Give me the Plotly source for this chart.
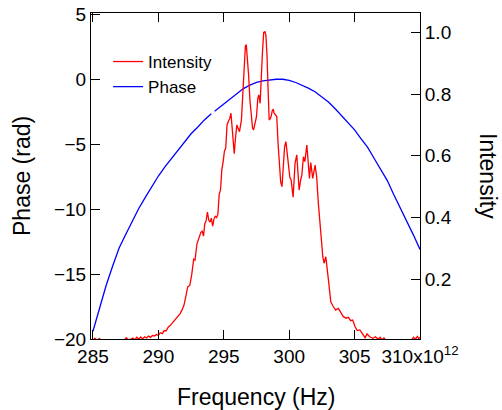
import plotly.graph_objects as go

# ---- Data ----
phase_freq = [285.0, 285.5, 286.0, 286.5, 287.0, 287.5, 288.0, 288.5, 289.0, 289.5,
              290.0, 290.5, 291.0, 291.5, 292.0, 292.5, 293.0, 293.5, 294.0, 294.05,
              294.15, 294.3, 294.5, 295.0, 295.5, 296.0, 296.5, 297.0, 297.5, 298.0,
              298.5, 299.0, 299.5, 300.0, 300.5, 301.0, 301.5, 302.0, 302.5, 303.0,
              303.5, 304.0, 304.5, 305.0, 305.5, 306.0, 306.5, 307.0, 307.5, 308.0,
              308.5, 309.0, 309.5, 310.0]
phase_rad = [-19.4, -17.6, -15.9, -14.4, -13.0, -11.95, -10.9, -9.95, -9.1, -8.25,
             -7.45, -6.75, -6.1, -5.45, -4.85, -4.2, -3.7, -3.15, -2.7, -2.66,
             None, -2.46, -2.3, -1.85, -1.45, -1.1, -0.72, -0.46, -0.25, -0.12,
             -0.04, 0.0, 0.0, -0.08, -0.25, -0.45, -0.7, -0.98, -1.35, -1.75,
             -2.25, -2.8, -3.3, -3.9, -4.6, -5.25, -6.1, -7.0, -7.8, -8.9,
             -9.9, -10.9, -12.0, -13.1]

int_freq = [285.00, 285.15, 285.30, 285.50, 285.65, 285.90, 286.20, 286.50, 286.80, 287.10,
            287.40, 287.55, 287.70, 287.90, 288.05, 288.20, 288.35, 288.50, 288.65, 288.80,
            288.95, 289.10, 289.25, 289.40, 289.55, 289.70, 289.85, 290.00, 290.15, 290.30,
            290.45, 290.60, 290.75, 290.90, 291.05, 291.20, 291.35, 291.50, 291.65, 291.80,
            291.95, 292.10, 292.25, 292.40, 292.55, 292.70, 292.80, 292.95, 293.10, 293.25,
            293.35, 293.45, 293.55, 293.65, 293.75, 293.85, 293.95, 294.05, 294.15, 294.25,
            294.35, 294.45, 294.55, 294.65, 294.75, 294.85, 294.95, 295.05, 295.15, 295.25,
            295.35, 295.45, 295.55, 295.65, 295.80, 295.90, 296.00, 296.10, 296.20, 296.35,
            296.45, 296.55, 296.65, 296.72, 296.80, 296.90, 297.00, 297.10, 297.20, 297.28,
            297.40, 297.50, 297.60, 297.68, 297.78, 297.85, 297.95, 298.05, 298.15, 298.22,
            298.30, 298.40, 298.47, 298.55, 298.62, 298.70, 298.78, 298.85, 298.95, 299.05,
            299.15, 299.25, 299.35, 299.45, 299.55, 299.65, 299.75, 299.85, 299.95, 300.05,
            300.15, 300.25, 300.30, 300.45, 300.58, 300.68, 300.76, 300.87, 300.97, 301.09,
            301.20, 301.35, 301.45, 301.55, 301.65, 301.80, 301.98, 302.10, 302.23, 302.40,
            302.57, 302.67, 302.80, 303.00, 303.18, 303.38, 303.55, 303.76, 303.95, 304.14,
            304.35, 304.52, 304.70, 304.85, 305.04, 305.20, 305.40, 305.60, 305.80, 305.95,
            306.15, 306.40, 306.60, 306.80, 306.95, 307.10, 307.25, 307.40, 307.80, 308.20,
            308.60, 309.00, 309.35, 309.50, 309.65, 309.80, 309.90, 310.00]
intensity = [0.004, 0.009, 0.003, 0.008, 0.002, 0.001, 0.000, 0.001, 0.000, 0.002,
             0.003, 0.011, 0.004, 0.006, 0.010, 0.004, 0.012, 0.006, 0.013, 0.007,
             0.014, 0.010, 0.016, 0.012, 0.018, 0.016, 0.021, 0.018, 0.027, 0.024,
             0.034, 0.033, 0.045, 0.050, 0.058, 0.066, 0.074, 0.080, 0.088, 0.100,
             0.115, 0.145, 0.176, 0.180, 0.215, 0.265, 0.262, 0.315, 0.335, 0.352,
             0.356, 0.340, 0.380, 0.390, 0.418, 0.392, 0.385, 0.398, 0.372, 0.395,
             0.404, 0.400, 0.410, 0.475, 0.490, 0.555, 0.580, 0.615, 0.625, 0.700,
             0.712, 0.720, 0.738, 0.690, 0.607, 0.660, 0.700, 0.688, 0.678, 0.716,
             0.800, 0.910, 0.955, 0.960, 0.925, 0.860, 0.780, 0.730, 0.690, 0.684,
             0.705, 0.727, 0.785, 0.797, 0.770, 0.850, 0.930, 1.000, 1.002, 0.990,
             0.930, 0.800, 0.716, 0.720, 0.727, 0.745, 0.751, 0.738, 0.732, 0.727,
             0.640, 0.560, 0.515, 0.500, 0.585, 0.630, 0.646, 0.600, 0.565, 0.530,
             0.522, 0.480, 0.466, 0.576, 0.603, 0.540, 0.489, 0.520, 0.538, 0.597,
             0.581, 0.635, 0.586, 0.527, 0.578, 0.527, 0.570, 0.532, 0.446, 0.349,
             0.273, 0.252, 0.273, 0.198, 0.127, 0.111, 0.100, 0.106, 0.090, 0.079,
             0.074, 0.077, 0.066, 0.068, 0.046, 0.034, 0.036, 0.023, 0.011, 0.023,
             0.014, 0.009, 0.014, 0.006, 0.012, 0.004, 0.010, 0.002, 0.000, 0.001,
             0.000, 0.002, 0.003, 0.012, 0.006, 0.015, 0.008, 0.012]

x_ticks = [285, 290, 295, 300, 305, 310]
x_ticktext = ["285", "290", "295", "300", "305", "310x10<sup>12</sup>"]
y_ticks = [-20, -15, -10, -5, 0, 5]
y2_ticks = [0.2, 0.4, 0.6, 0.8, 1.0]
y2_ticktext = ["0.2", "0.4", "0.6", "0.8", "1.0"]

FONT = "Liberation Sans, Arial, sans-serif"

fig = go.Figure()
fig.add_trace(go.Scatter(x=int_freq, y=intensity, name="Intensity", mode="lines",
                         line=dict(color="#ff0000", width=1.3), yaxis="y2"))
fig.add_trace(go.Scatter(x=phase_freq, y=phase_rad, name="Phase", mode="lines",
                         line=dict(color="#0000ff", width=1.3), yaxis="y",
                         connectgaps=False))

axis_common = dict(showline=True, linecolor="black", linewidth=1, ticks="inside",
                   ticklen=9, tickcolor="black", tickwidth=1, showgrid=False,
                   zeroline=False, automargin=False,
                   tickfont=dict(family=FONT, size=19, color="black"))

fig.update_layout(
    width=502, height=410,
    margin=dict(l=91, r=82, t=13, b=71, autoexpand=False),
    paper_bgcolor="white", plot_bgcolor="white",
    font=dict(family=FONT, color="black"),
    showlegend=True,
    legend=dict(x=0.052, y=0.905, xanchor="left", yanchor="top",
                bgcolor="rgba(0,0,0,0)", font=dict(family=FONT, size=17, color="black"),
                tracegroupgap=0),
    xaxis=dict(range=[284.85, 310], tickvals=x_ticks, ticktext=x_ticktext,
               mirror="ticks", **axis_common),
    yaxis=dict(range=[-20, 5.1], tickvals=y_ticks, **axis_common),
    yaxis2=dict(range=[0.0066, 1.0625], tickvals=y2_ticks, ticktext=y2_ticktext,
                overlaying="y", side="right", **axis_common),
    annotations=[
        dict(text="Phase (rad)", x=0, y=0.5, xref="paper", yref="paper",
             xanchor="center", yanchor="middle", xshift=-69, textangle=-90,
             showarrow=False, font=dict(family=FONT, size=23, color="black")),
        dict(text="Intensity", x=1, y=0.5, xref="paper", yref="paper",
             xanchor="center", yanchor="middle", xshift=68, textangle=90,
             showarrow=False, font=dict(family=FONT, size=23, color="black")),
        dict(text="Frequency (Hz)", x=0.5, y=0, xref="paper", yref="paper",
             xanchor="center", yanchor="middle", yshift=-58,
             showarrow=False, font=dict(family=FONT, size=23, color="black")),
    ],
)

fig.write_html("out.html", config={"displayModeBar": False},
               post_script="document.body.style.margin='0';document.body.style.overflow='hidden';")
